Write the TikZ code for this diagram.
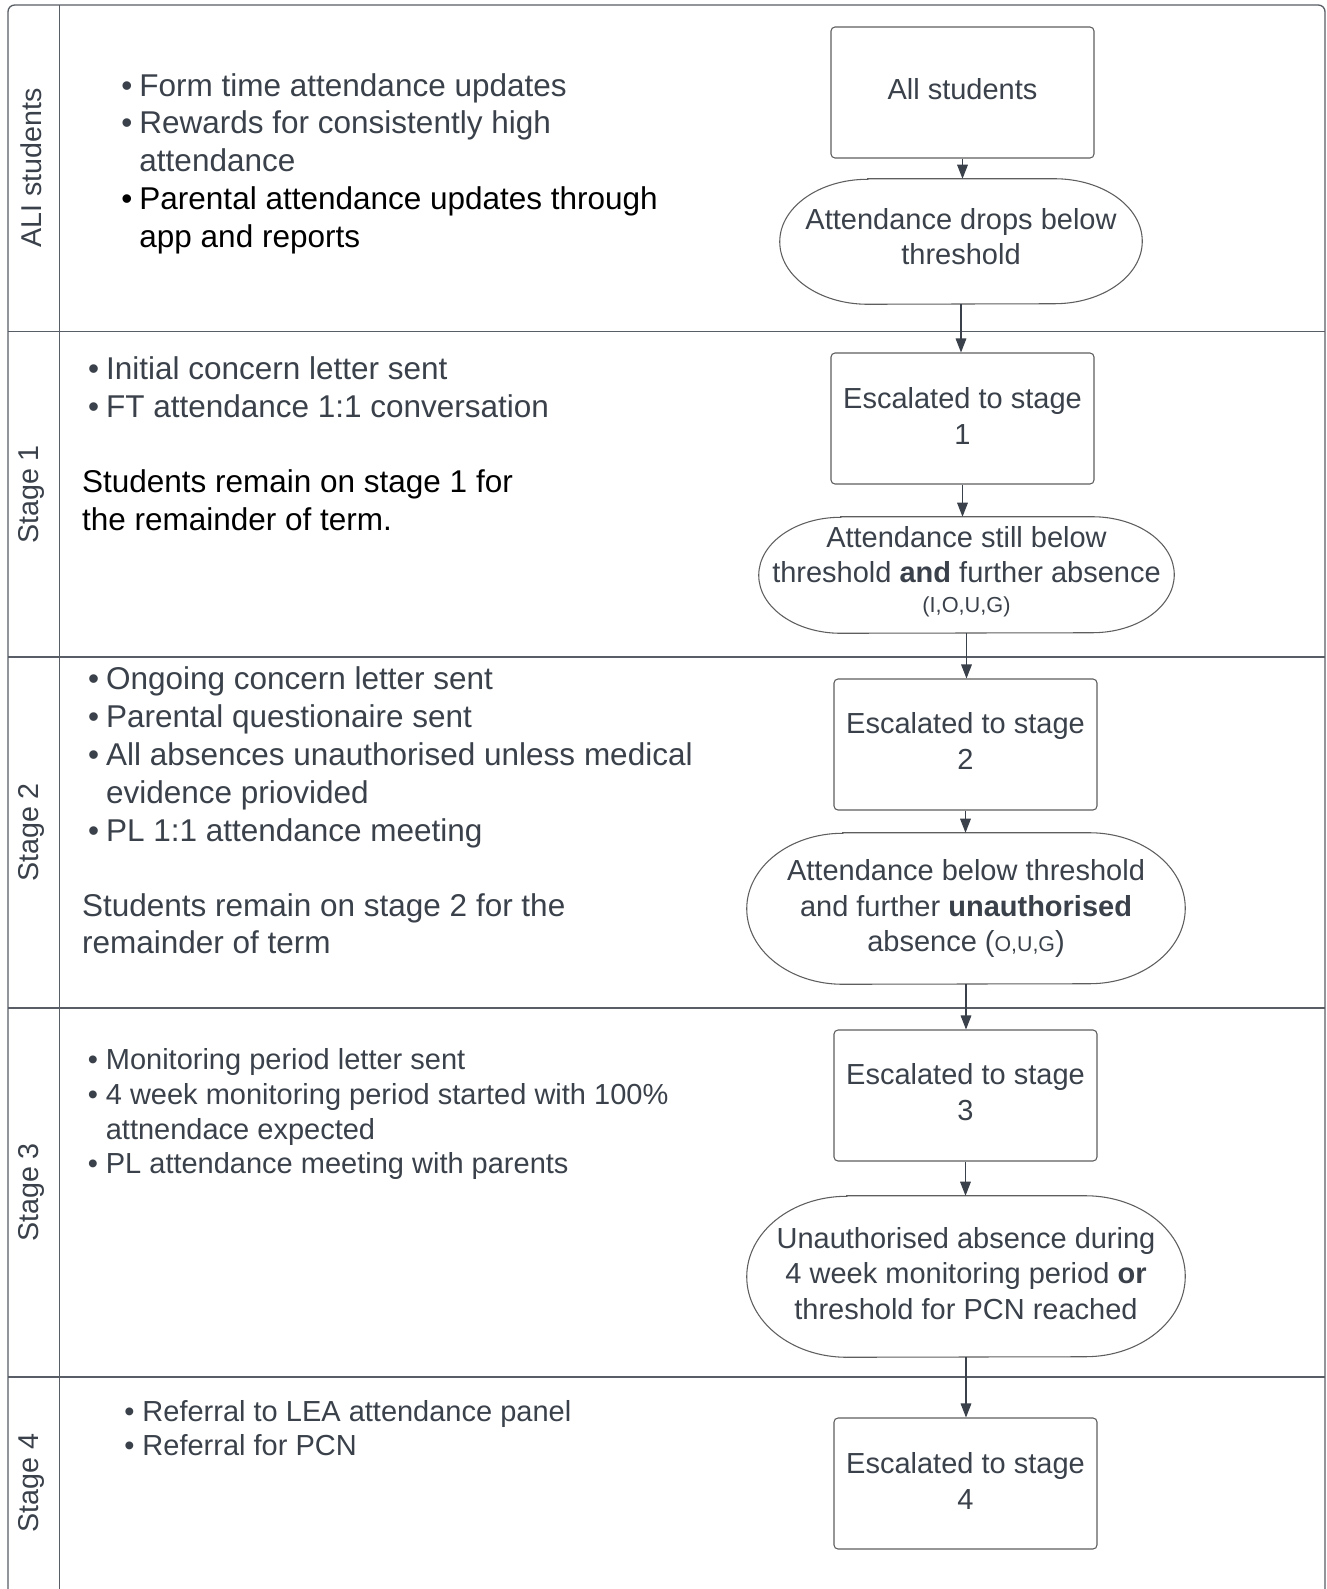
\documentclass[tikz,border=0pt]{standalone}
\usepackage{fontspec}
\setmainfont{Liberation Sans}
\usetikzlibrary{arrows.meta,calc}
\definecolor{txt}{HTML}{3A414A}
\definecolor{lanec}{HTML}{595E66}
\definecolor{shapec}{HTML}{5E5E5E}
\definecolor{arrc}{HTML}{3A414A}
\newcommand\bul{\makebox[13.5pt][l]{•}}
\newcommand\cnt{\hspace*{13.5pt}}
\newcommand\rfont{\fontsize{21.75pt}{26.6pt}\selectfont}
\newcommand\lanefont{\fontsize{21.5pt}{26pt}\selectfont}
\newcommand\bigtxt[1]{\fontsize{23.625pt}{#1}\selectfont}
\newcommand\smtxt[1]{\fontsize{21.75pt}{#1}\selectfont}
\newcommand\drawstadium[3]{\draw[shapeline] ([xshift=#2]#1.north west) -- ([xshift=-#2]#1.north east) arc[start angle=90,end angle=-90,x radius=#2,y radius=#3] -- ([xshift=#2]#1.south west) arc[start angle=270,end angle=90,x radius=#2,y radius=#3] -- cycle;}
\begin{document}
\begin{tikzpicture}[x=0.75pt,y=0.75pt,
 lane/.style={draw=lanec,line width=1pt},
 boxn/.style={draw=shapec,line width=0.8pt,rounded corners=3pt,minimum width=197.25pt,minimum height=98.25pt,inner sep=0pt,align=center,text=txt,font=\rfont,text depth=5pt},
 stadn/.style={inner sep=0pt,align=center,text=txt,font=\rfont},
 shapeline/.style={draw=shapec,line width=0.8pt},
 arr/.style={draw=arrc,line width=0.8pt,-{Triangle[length=10.5pt,width=8pt]}},
 lanelabel/.style={rotate=90,text=txt,font=\lanefont,inner sep=0pt},
 lefttext/.style={anchor=base west,inner sep=0pt,text=txt}]
\fill[white] (0,0) rectangle (1327,-1589);
\useasboundingbox (0,0) rectangle (1327,-1589);
% lanes
\draw[lane,rounded corners=5pt] (8,-1589) -- (8,-5) -- (1325,-5) -- (1325,-1589);
\draw[lane] (59.5,-5) -- (59.5,-1589);
\draw[lane] (8,-331.5) -- (1325,-331.5);
\draw[lane] (8,-657) -- (1325,-657);
\draw[lane] (8,-1008) -- (1325,-1008);
\draw[lane] (8,-1377) -- (1325,-1377);
% lane labels
\node[lanelabel] (l0) at (31.5,-168) {ALI students};
\node[lanelabel] (l1) at (31.5,-494.5) {Stage 1};
\node[lanelabel] (l2) at (31.5,-832.5) {Stage 2};
\node[lanelabel] (l3) at (31.5,-1192.5) {Stage 3};
\node[lanelabel] (l4) at (31.5,-1483) {Stage 4};
% left texts
\node[lefttext] (t0) at (121.2,-96) {\parbox[t]{620pt}{\bigtxt{28.35pt}\bul Form time attendance updates\\\bul Rewards for consistently high\\\cnt attendance\\\color{black}\bul Parental attendance updates through\\\cnt app and reports}};
\node[lefttext] (t1) at (87.8,-379) {\parbox[t]{620pt}{\bigtxt{28.8pt}\bul Initial concern letter sent\\\bul FT attendance 1:1 conversation}};
\node[lefttext,text=black] (t1b) at (81.8,-492.7) {\parbox[t]{620pt}{\bigtxt{28.1pt}Students remain on stage 1 for\\the remainder of term.}};
\node[lefttext] (t2) at (87.8,-689) {\parbox[t]{620pt}{\bigtxt{28.5pt}\bul Ongoing concern letter sent\\\bul Parental questionaire sent\\\bul All absences unauthorised unless medical\\\cnt evidence priovided\\\bul PL 1:1 attendance meeting}};
\node[lefttext] (t2b) at (81.8,-916) {\parbox[t]{620pt}{\bigtxt{28pt}Students remain on stage 2 for the\\remainder of term}};
\node[lefttext] (t3) at (87.6,-1069.5) {\parbox[t]{620pt}{\smtxt{26.1pt}\bul Monitoring period letter sent\\\bul 4 week monitoring period started with 100\%\\\cnt attnendace expected\\\bul PL attendance meeting with parents}};
\node[lefttext] (t4) at (124.2,-1421) {\parbox[t]{620pt}{\smtxt{25.5pt}\bul Referral to LEA attendance panel\\\bul Referral for PCN}};
% flow shapes
\node[boxn,text depth=6pt] (b1) at (962.5,-92.5) {All students};
\node[stadn,minimum width=271.5pt,minimum height=93.75pt,text depth=7.5pt] (s1) at (961,-241.5) {Attendance drops below\\threshold};
\node[boxn,text depth=4pt] (b2) at (962.5,-418.5) {Escalated to stage\\1};
\node[stadn,minimum width=311.25pt,minimum height=87pt,text depth=8pt] (s2) at (966.5,-575) {Attendance still below\\threshold \textbf{and} further absence\\[-4pt]{\fontsize{16.3pt}{20pt}\selectfont (I,O,U,G)}};
\node[boxn] (b3) at (965.5,-744.5) {Escalated to stage\\2};
\node[stadn,minimum width=328.5pt,minimum height=113.25pt] (s3) at (966,-908.5) {Attendance below threshold\\and further \textbf{unauthorised}\\absence ({\fontsize{16pt}{20pt}\selectfont O,U,G})};
\node[boxn] (b4) at (965.5,-1095.5) {Escalated to stage\\3};
\node[stadn,minimum width=328.5pt,minimum height=120.75pt,text depth=5.2pt] (s4) at (966,-1276.5) {Unauthorised absence during\\4 week monitoring period \textbf{or}\\threshold for PCN reached};
\node[boxn,text depth=3.5pt] (b5) at (965.5,-1483.5) {Escalated to stage\\4};
\drawstadium{s1}{66pt}{46.875pt}
\drawstadium{s2}{61.5pt}{43.5pt}
\drawstadium{s3}{72pt}{56.625pt}
\drawstadium{s4}{75pt}{60.375pt}
% connectors
\draw[arr] (b1.south) -- (b1.south |- s1.north);
\draw[arr] (s1.south) -- (s1.south |- b2.north);
\draw[arr] (b2.south) -- (b2.south |- s2.north);
\draw[arr] (s2.south) -- (s2.south |- b3.north);
\draw[arr] (b3.south) -- (b3.south |- s3.north);
\draw[arr] (s3.south) -- (s3.south |- b4.north);
\draw[arr] (b4.south) -- (b4.south |- s4.north);
\draw[arr] (s4.south) -- (s4.south |- b5.north);
\end{tikzpicture}
\end{document}
